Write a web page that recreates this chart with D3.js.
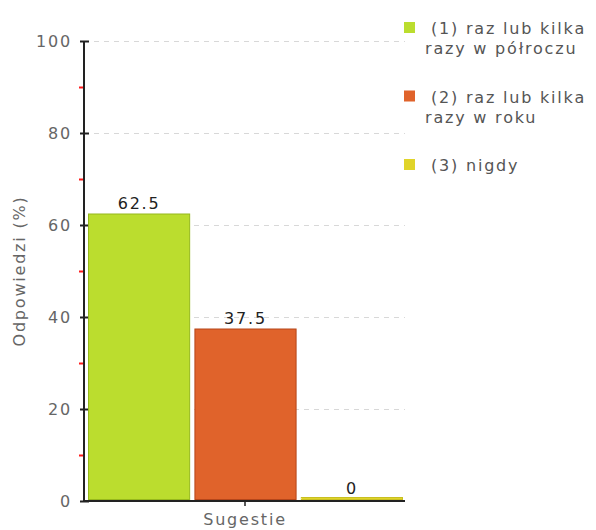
<!DOCTYPE html>
<html>
<head>
<meta charset="utf-8">
<script src="https://cdn.jsdelivr.net/npm/d3@7"></script>
<style>
  body { margin: 0; background: #fff; }
  svg { font-family: "DejaVu Sans", Verdana, sans-serif; }
</style>
</head>
<body>
<svg id="chart" width="596" height="530"></svg>
<script>
// data
var categories = ["(1) raz lub kilka razy w półroczu", "(2) raz lub kilka razy w roku", "(3) nigdy"];
var legendLines = [["(1) raz lub kilka", "razy w  półroczu"], ["(2) raz lub kilka", "razy w  roku"], ["(3) nigdy"]];
var values = [62.5, 37.5, 0];
var colors = ["#bbdd2e", "#e0632b", "#e0d42a"];
var borders = ["#96b81c", "#b5461a", "#b0a818"];
var yTicks = [0, 20, 40, 60, 80, 100];
var yMinor = [10, 30, 50, 70, 90];
var xLabel = "Sugestie";
var yLabel = "Odpowiedzi (%)";

var svg = d3.select("#chart");
var plotLeft = 84, plotRight = 405, plotTop = 41, plotBottom = 501;
var fontSize = "16px", spacing = "1.8px";

var y = d3.scaleLinear().domain([0, 100]).range([plotBottom, plotTop]);
var x = d3.scaleBand().domain(categories).range([plotLeft + 4, plotRight - 2]).paddingInner(0.04);

// grid lines
svg.append("g")
  .selectAll("line")
  .data(yTicks.filter(d => d > 0))
  .enter().append("line")
  .attr("x1", plotLeft).attr("x2", plotRight)
  .attr("y1", d => y(d) + 0.5).attr("y2", d => y(d) + 0.5)
  .attr("stroke", "#d8d8d8")
  .attr("stroke-dasharray", "5,5");

// y axis
var yAxis = svg.append("g")
  .attr("transform", `translate(${plotLeft},0)`)
  .call(d3.axisLeft(y).tickValues(yTicks).tickSize(4).tickPadding(8));
yAxis.select(".domain").attr("stroke", "#222").attr("stroke-width", 2).attr("d", `M0,${plotTop}V${plotBottom}`);
yAxis.selectAll(".tick line").attr("x2", 5).attr("x1", -4).attr("stroke", "#222").attr("stroke-width", 2);
yAxis.selectAll(".tick text").attr("fill", "#666").attr("font-size", fontSize)
  .attr("letter-spacing", spacing)
  .attr("font-family", "DejaVu Sans, sans-serif");

// x axis
var xs = d3.scalePoint().domain([xLabel]).range([plotLeft, plotRight]).padding(0.5);
var xAxis = svg.append("g")
  .attr("transform", `translate(0,${plotBottom})`)
  .call(d3.axisBottom(xs).tickSize(5).tickPadding(8));
xAxis.select(".domain").attr("stroke", "#222").attr("stroke-width", 2).attr("d", `M${plotLeft},0H${plotRight}`);
xAxis.selectAll(".tick line").attr("stroke", "#222").attr("stroke-width", 1.5);
xAxis.selectAll(".tick text").attr("fill", "#666").attr("font-size", fontSize)
  .attr("letter-spacing", spacing)
  .attr("font-family", "DejaVu Sans, sans-serif");

// minor ticks (red)
svg.append("g")
  .selectAll("line")
  .data(yMinor)
  .enter().append("line")
  .attr("x1", plotLeft - 5).attr("x2", plotLeft - 1)
  .attr("y1", d => y(d) + 0.5).attr("y2", d => y(d) + 0.5)
  .attr("stroke", "#ff1a1a")
  .attr("stroke-width", 2);

// bars
svg.append("g")
  .selectAll("rect")
  .data(values)
  .enter().append("rect")
  .attr("x", (d, i) => x(categories[i]) + 0.5)
  .attr("y", d => Math.min(y(d), plotBottom - 4) + 0.5)
  .attr("width", x.bandwidth() - 1)
  .attr("height", d => Math.max(plotBottom - 1 - y(d), 3) - 1)
  .attr("fill", (d, i) => colors[i])
  .attr("stroke", (d, i) => d == 0 ? "#c8bf20" : borders[i])
  .attr("stroke-width", 1);

// value labels
svg.append("g")
  .selectAll("text")
  .data(values)
  .enter().append("text")
  .attr("x", (d, i) => x(categories[i]) + x.bandwidth() / 2)
  .attr("y", d => y(d) - (d == 0 ? 7 : 5))
  .attr("text-anchor", "middle")
  .attr("font-size", fontSize)
  .attr("letter-spacing", spacing)
  .attr("fill", "#222")
  .text(d => d);

// y label
svg.append("text")
  .attr("transform", `translate(25,${(plotTop + plotBottom) / 2}) rotate(-90)`)
  .attr("text-anchor", "middle")
  .attr("font-size", fontSize)
  .attr("letter-spacing", spacing)
  .attr("fill", "#666")
  .text(yLabel);

// legend
var legend = svg.append("g")
  .selectAll("g")
  .data(legendLines)
  .enter().append("g")
  .attr("transform", (d, i) => `translate(404,${22 + i * 68.5})`);
legend.append("rect")
  .attr("width", 11).attr("height", 11)
  .attr("fill", (d, i) => colors[i]);
legend.each(function(lines) {
  var g = d3.select(this);
  lines.forEach((t, j) => {
    g.append("text")
      .attr("x", j == 0 ? 27 : 21)
      .attr("y", 12 + j * 20)
      .attr("font-size", fontSize)
      .attr("letter-spacing", spacing)
      .attr("fill", "#555")
      .text(t);
  });
});
</script>
</body>
</html>
